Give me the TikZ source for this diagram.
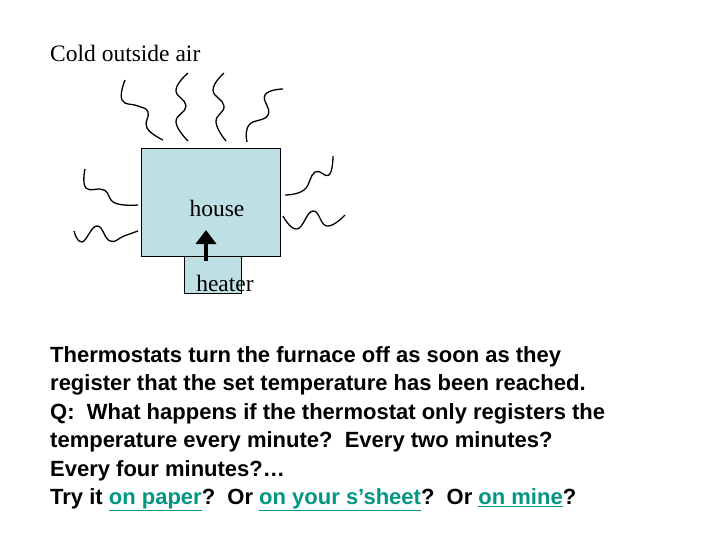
\documentclass[tikz,border=0pt]{standalone}
\usetikzlibrary{arrows.meta}
\usepackage{fontspec}
\setmainfont{Liberation Serif}
\newfontfamily\arial{Liberation Sans}
\usepackage{xcolor}
\definecolor{boxfill}{RGB}{190,223,227}
\definecolor{linkc}{RGB}{0,150,130}
\newcommand{\lnk}[1]{\textcolor{linkc}{\underline{#1}}}
\begin{document}
\begin{tikzpicture}[x=1pt,y=-1pt,
  sq/.style={line width=1.3pt,smooth,tension=0.8},
  boxs/.style={draw,line width=0.9pt,fill=boxfill},
  lbl/.style={font=\fontsize{23.5}{28}\selectfont,inner sep=0}]
\useasboundingbox (0,0) rectangle (720,540);
\node[lbl,anchor=base west] (cold) at (50,62) {Cold outside air};
\node[boxs,minimum width=57,minimum height=37,anchor=north west,inner sep=0] (heater) at (184,256) {};
\node[boxs,minimum width=139,minimum height=108,anchor=north west,inner sep=0] (house) at (141,148) {};
\node[lbl,anchor=base] (hlabel) at (217,216) {house};
\node[lbl,anchor=base] (heatlabel) at (225,291) {heater};
\coordinate (a0) at (206,261);
\coordinate (a1) at (206,230);
\draw[line width=4.5pt,-{Triangle[width=20pt,length=14pt]}] (a0) -- (a1);
\draw[sq] plot coordinates {(125,80) (122,100) (138,106) (148,112) (147,128) (163,140)};
\draw[sq] plot coordinates {(188,73) (176,90) (186,106) (176,122) (188,141)};
\draw[sq] plot coordinates {(224,73) (213,90) (224,106) (216,122) (226,141)};
\draw[sq] plot coordinates {(283,89) (265,95) (268,115) (249,125) (247,142)};
\draw[sq] plot coordinates {(85,169) (86,188) (104,190) (115,203) (138,205)};
\draw[sq] plot coordinates {(74,231) (82,242) (97,226) (110,241) (124,236) (138,231)};
\draw[sq] plot coordinates {(333,156) (329,175) (315,172) (304,190) (285,195)};
\draw[sq] plot coordinates {(283,216) (297,229) (313,211) (327,226) (345,215)};
\node[anchor=base west,align=left,font=\arial\bfseries\fontsize{22}{28.5}\selectfont,inner sep=0] (txt) at (50,504.5) {Thermostats turn the furnace off as soon as they\\
register that the set temperature has been reached.\\
Q:\ \ What happens if the thermostat only registers the\\
temperature every minute?\ \ Every two minutes?\\
Every four minutes?…\\
Try it \lnk{on paper}?\ \ Or \lnk{on your s’sheet}?\ \ Or \lnk{on mine}?};
\end{tikzpicture}
\end{document}
